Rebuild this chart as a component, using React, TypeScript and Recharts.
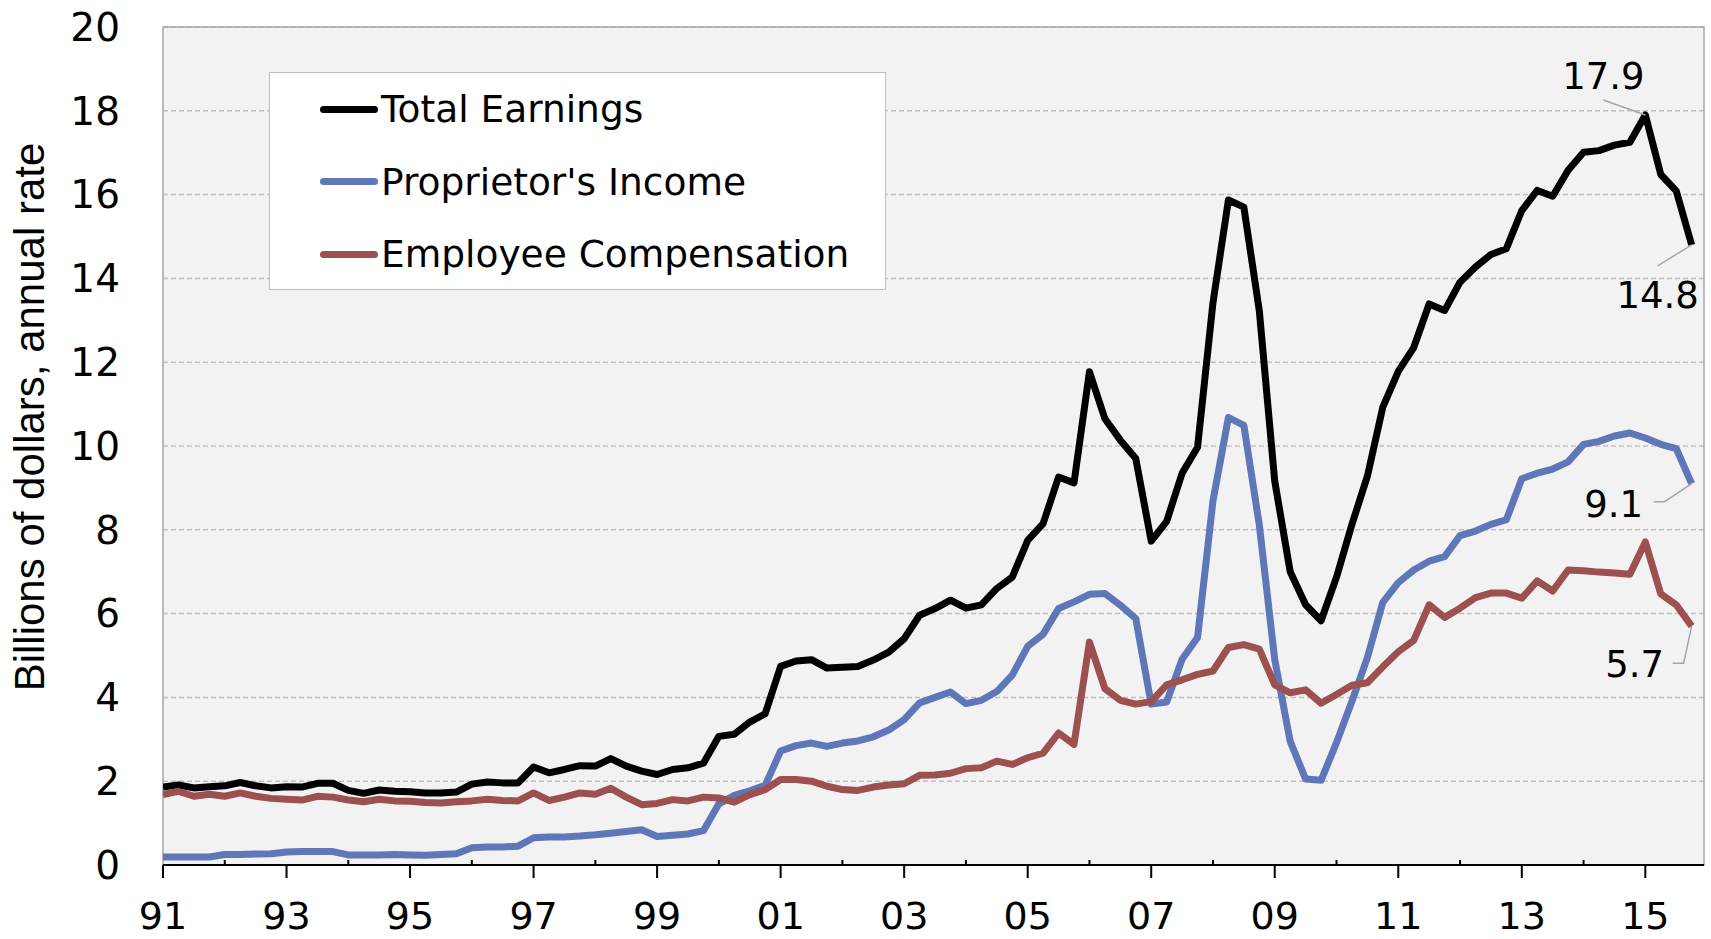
import { CartesianGrid, Line, LineChart, ReferenceArea, ReferenceDot, XAxis, YAxis } from "recharts";

// quarterly, 1991Q1 .. 2015Q4
const startYear = 1991;

const totalEarnings = [
    1.86, 1.91, 1.84, 1.87,
    1.89, 1.97, 1.89, 1.84,
    1.87, 1.86, 1.95, 1.95,
    1.78, 1.71, 1.79, 1.76,
    1.75, 1.72, 1.72, 1.74,
    1.93, 1.98, 1.96, 1.96,
    2.34, 2.20, 2.28, 2.37,
    2.36, 2.54, 2.36, 2.24,
    2.16, 2.28, 2.32, 2.43,
    3.07, 3.12, 3.41, 3.61,
    4.74, 4.87, 4.90, 4.70,
    4.72, 4.74, 4.89, 5.08,
    5.40, 5.96, 6.12, 6.32,
    6.13, 6.21, 6.60, 6.87,
    7.75, 8.15, 9.26, 9.12,
    11.77, 10.65, 10.14, 9.70,
    7.73, 8.20, 9.35, 9.97,
    13.42, 15.87, 15.70, 13.23,
    9.16, 7.00, 6.21, 5.83,
    6.87, 8.13, 9.28, 10.93,
    11.78, 12.35, 13.39, 13.23,
    13.91, 14.27, 14.57, 14.71,
    15.62, 16.10, 15.96, 16.58,
    17.01, 17.05, 17.18, 17.25,
    17.90, 16.48, 16.09, 14.80,
];

const proprietorsIncome = [
    0.19, 0.19, 0.19, 0.19,
    0.25, 0.25, 0.26, 0.27,
    0.31, 0.32, 0.32, 0.32,
    0.24, 0.24, 0.24, 0.25,
    0.24, 0.23, 0.25, 0.27,
    0.41, 0.43, 0.43, 0.45,
    0.65, 0.67, 0.67, 0.69,
    0.72, 0.76, 0.80, 0.84,
    0.68, 0.71, 0.74, 0.82,
    1.46, 1.66, 1.77, 1.90,
    2.72, 2.85, 2.91, 2.83,
    2.91, 2.96, 3.06, 3.22,
    3.47, 3.87, 4.00, 4.13,
    3.85, 3.93, 4.14, 4.53,
    5.22, 5.51, 6.12, 6.28,
    6.46, 6.48, 6.20, 5.88,
    3.84, 3.89, 4.91, 5.43,
    8.69, 10.68, 10.49, 8.12,
    4.90, 2.95, 2.05, 2.02,
    2.92, 3.91, 4.95, 6.27,
    6.74, 7.04, 7.25, 7.36,
    7.86, 7.97, 8.13, 8.24,
    9.22, 9.35, 9.45, 9.62,
    10.04, 10.11, 10.24, 10.31,
    10.19, 10.04, 9.94, 9.10,
];

const employeeCompensation = [
    1.68, 1.76, 1.64, 1.69,
    1.64, 1.72, 1.64, 1.59,
    1.57, 1.55, 1.64, 1.62,
    1.55, 1.51, 1.57, 1.53,
    1.52, 1.49, 1.48, 1.51,
    1.53, 1.57, 1.54, 1.53,
    1.72, 1.54, 1.62, 1.72,
    1.69, 1.83, 1.62, 1.44,
    1.47, 1.56, 1.53, 1.62,
    1.60, 1.50, 1.68, 1.80,
    2.04, 2.04, 2.00, 1.88,
    1.80, 1.78, 1.86, 1.91,
    1.94, 2.14, 2.15, 2.19,
    2.30, 2.32, 2.48, 2.40,
    2.56, 2.67, 3.15, 2.88,
    5.32, 4.21, 3.93, 3.84,
    3.90, 4.30, 4.42, 4.55,
    4.63, 5.19, 5.26, 5.15,
    4.30, 4.11, 4.18, 3.86,
    4.07, 4.29, 4.35, 4.73,
    5.09, 5.36, 6.21, 5.91,
    6.13, 6.38, 6.49, 6.49,
    6.37, 6.78, 6.54, 7.04,
    7.02, 6.99, 6.97, 6.94,
    7.71, 6.47, 6.21, 5.70,
];

const yearTickLabels = ["91", "93", "95", "97", "99", "01", "03", "05", "07", "09", "11", "13", "15"];
const yTicks = [0, 2, 4, 6, 8, 10, 12, 14, 16, 18, 20];

const seriesNames = ["Total Earnings", "Proprietor's Income", "Employee Compensation"];
const seriesKeys = ["total", "prop", "emp"];
const seriesColors = ["#000000", "#5F77B8", "#9C5050"];

const data = totalEarnings.map((v, i) => ({
    i,
    quarter: `${startYear + Math.floor(i / 4)}Q${(i % 4) + 1}`,
    total: v,
    prop: proprietorsIncome[i],
    emp: employeeCompensation[i],
}));

// one tick per year; labelled (long) ticks every other year
const xTicks = Array.from({ length: 25 }, (_, k) => k * 4);

const FONT = "'DejaVu Sans', Verdana, sans-serif";
const GREY = "#A6A6A6";

function XTick(props: any) {
    const { x, y, payload } = props;
    const yearIdx = payload.value / 4;
    if (yearIdx % 2 === 0) {
        return <g>
            <line x1={x} x2={x} y1={y} y2={y + 13} stroke="#000" strokeWidth={2} />
            <text x={x} y={y + 64} textAnchor="middle" fontSize={38} fontFamily={FONT} fill="#000">
                {yearTickLabels[yearIdx / 2]}
            </text>
        </g>;
    }
    return <line x1={x} x2={x} y1={y - 5} y2={y} stroke="#000" strokeWidth={2} />;
}

interface Callout {
    dx: number;
    dy: number;
    path: number[][];
}

function callout(c: Callout, text: string) {
    return (p: any) => {
        const { cx, cy } = p;
        const d = c.path.map((pt, k) => `${k ? "L" : "M"}${cx + pt[0]},${cy + pt[1]}`).join(" ");
        return <g>
            <path d={d} stroke={GREY} strokeWidth={1.5} fill="none" />
            <text x={cx + c.dx} y={cy + c.dy} textAnchor="middle" fontSize={37} fontFamily={FONT} fill="#000">{text}</text>
        </g>;
    };
}

function LegendBox() {
    return <div style={{
        position: "absolute", left: 269, top: 72,
        width: 617, height: 218, boxSizing: "border-box", background: "#fff",
        border: "1.5px solid #BFBFBF", fontFamily: FONT,
    }}>
        {seriesNames.map((name, k) => (
            <div key={name} style={{ position: "absolute", left: 50, top: 36 + k * 72.5 - 25, height: 50, display: "flex", alignItems: "center" }}>
                <div style={{ width: 58, height: 7, borderRadius: 4, background: seriesColors[k] }} />
                <span style={{ fontSize: 37.5, marginLeft: 3, color: "#000", whiteSpace: "nowrap" }}>{name}</span>
            </div>
        ))}
    </div>;
}

export default function App() {
    const last = totalEarnings.length - 1;
    return <div style={{ position: "absolute", left: 0, top: 0, width: 1711, height: 939, background: "#fff" }}>
        <LineChart width={1711} height={939} data={data} margin={{ top: 27, right: 7, left: 0, bottom: 0 }}>
            <CartesianGrid vertical={false} fill="#F2F2F2" stroke="#C0C0C0" strokeWidth={1.5} strokeDasharray="5 3" />
            <ReferenceArea x1={0} x2={99.8} y1={0} y2={20} fill="none" stroke={GREY} strokeWidth={1.5} ifOverflow="visible" />
            <XAxis dataKey="i" type="number" domain={[0, 99.8]} ticks={xTicks} interval={0} allowDataOverflow
                height={74} tickSize={0} tickMargin={0} tickLine={false}
                axisLine={{ stroke: "#000", strokeWidth: 2 }} tick={<XTick />} />
            <YAxis domain={[0, 20]} ticks={yTicks} interval={0} width={163} tickSize={0} tickMargin={43}
                axisLine={false} tickLine={false}
                tick={{ fontSize: 39, fontFamily: FONT, fill: "#000" }}
                label={{
                    content: () => <text transform="translate(44,417) rotate(-90)" textAnchor="middle"
                        fontSize={42} fontFamily="'Liberation Sans', Arial, sans-serif" fill="#000">
                        Billions of dollars, annual rate
                    </text>
                }} />
            {seriesKeys.map((key, k) => (
                <Line key={key} type="linear" dataKey={key} name={seriesNames[k]} stroke={seriesColors[k]}
                    strokeWidth={7} dot={false} activeDot={false} strokeLinejoin="round"
                    isAnimationActive={false} />
            ))}
            <ReferenceDot x={96} y={totalEarnings[96]} ifOverflow="visible"
                shape={callout({ dx: -42, dy: -26, path: [[-42, -15], [0, 0]] }, totalEarnings[96].toFixed(1))} />
            <ReferenceDot x={last} y={totalEarnings[last]} ifOverflow="visible"
                shape={callout({ dx: -34, dy: 63, path: [[-34, 21], [0, 0]] }, totalEarnings[last].toFixed(1))} />
            <ReferenceDot x={last} y={proprietorsIncome[last]} ifOverflow="visible"
                shape={callout({ dx: -78, dy: 33, path: [[-38, 18], [-27, 18], [0, 0]] }, proprietorsIncome[last].toFixed(1))} />
            <ReferenceDot x={last} y={employeeCompensation[last]} ifOverflow="visible"
                shape={callout({ dx: -57, dy: 51, path: [[-19, 37], [-8, 37], [0, 0]] }, employeeCompensation[last].toFixed(1))} />
        </LineChart>
        <LegendBox />
    </div>;
}
